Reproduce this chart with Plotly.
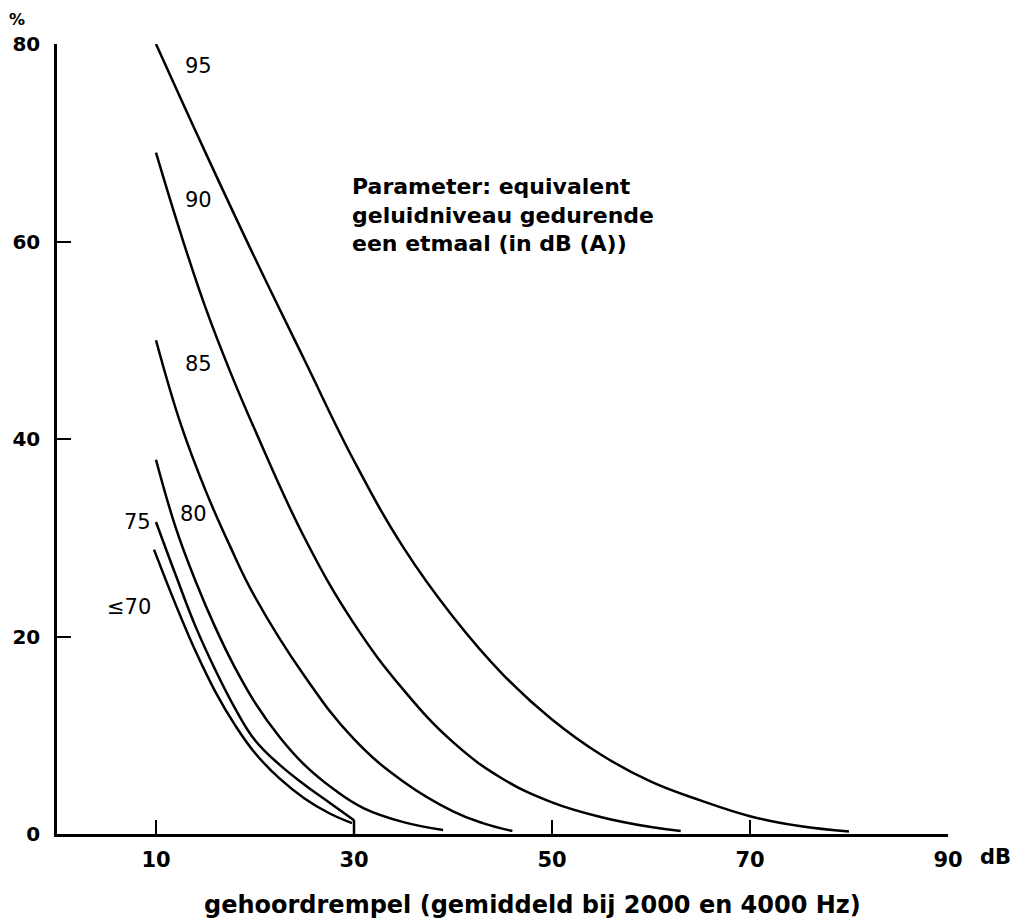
import plotly.graph_objects as go

# hearing threshold (dB) vs percentage (%), one curve per equivalent noise level
x_95 = [10, 15, 20, 25, 30, 35, 40, 45, 50, 55, 60, 65, 70, 75, 80]
y_95 = [80, 69.0, 58.3, 48.0, 37.8, 29.0, 22.0, 16.2, 11.6, 8.0, 5.3, 3.4, 1.8, 0.8, 0.25]

x_90 = [10, 12.5, 15, 17.5, 20, 25, 30, 35, 40, 45, 50, 55, 60, 63]
y_90 = [69, 60.8, 53.3, 46.8, 40.9, 30.0, 21.3, 14.6, 9.3, 5.6, 3.2, 1.7, 0.7, 0.3]

x_85 = [10, 12.5, 15, 17.5, 20, 25, 30, 35, 40, 43, 46]
y_85 = [50, 41.5, 34.8, 29.1, 24.0, 16.0, 9.6, 5.3, 2.3, 1.1, 0.3]

x_80 = [10, 12, 14, 16, 18, 20, 22.5, 25, 28, 31, 35, 39]
y_80 = [37.9, 31.0, 25.6, 20.9, 16.8, 13.3, 9.8, 7.0, 4.5, 2.6, 1.2, 0.4]

x_75 = [10, 12, 14, 16, 18, 20, 22.5, 25, 27.5, 30]
y_75 = [31.6, 26.2, 21.0, 16.6, 12.7, 9.5, 7.0, 5.0, 3.2, 1.4]

x_70 = [9.8, 12, 14, 16, 18, 20, 22.5, 25, 27.5, 29.8]
y_70 = [28.8, 23.2, 18.5, 14.4, 11.0, 8.2, 5.6, 3.6, 2.1, 1.1]

# short vertical drop of the 75 curve to the axis
x_drop = [30.0, 30.0]
y_drop = [1.4, 0.0]

x_ticks = [10, 30, 50, 70, 90]
y_ticks = [0, 20, 40, 60, 80]

curves = [(x_95, y_95), (x_90, y_90), (x_85, y_85), (x_80, y_80),
          (x_75, y_75), (x_70, y_70)]

fig = go.Figure()
for xs, ys in curves:
    fig.add_trace(go.Scatter(x=xs, y=ys, mode="lines",
                             line=dict(color="black", width=2.5,
                                       shape="spline", smoothing=1.2),
                             showlegend=False, hoverinfo="skip"))
fig.add_trace(go.Scatter(x=x_drop, y=y_drop, mode="lines",
                         line=dict(color="black", width=2.5),
                         showlegend=False, hoverinfo="skip"))

lab_font = dict(family="DejaVu Sans", size=21, color="black")
labels = [("95", 14.3, 77.8), ("90", 14.3, 64.2), ("85", 14.3, 47.6),
          ("80", 13.8, 32.4), ("75", 8.1, 31.6), ("≤70", 7.3, 23.0)]
for t, lx, ly in labels:
    fig.add_annotation(x=lx, y=ly, text=t, showarrow=False,
                       font=lab_font, xanchor="center", yanchor="middle")

fig.add_annotation(x=30.0, y=67.0, xshift=-4,
                   text="Parameter: equivalent<br>geluidniveau gedurende<br>een etmaal (in dB (A))",
                   showarrow=False, xanchor="left", yanchor="top", align="left",
                   font=dict(family="DejaVu Sans", size=22, color="black", weight="bold"))

fig.add_annotation(x=90, y=0, text="dB", showarrow=False, xanchor="left",
                   yanchor="middle", xshift=30, yshift=-23,
                   font=dict(family="DejaVu Sans", size=21, color="black", weight="bold"))

fig.add_annotation(xref="paper", yref="paper", x=-0.045, y=1.0, text="%",
                   showarrow=False, xanchor="center", yanchor="bottom", yshift=13,
                   font=dict(family="DejaVu Sans", size=16, color="black", weight="bold"))

fig.add_annotation(xref="paper", yref="paper", x=0.5336, y=0.0, yshift=-71,
                   text="gehoordrempel (gemiddeld bij 2000 en 4000 Hz)",
                   showarrow=False, xanchor="center", yanchor="middle",
                   font=dict(family="DejaVu Sans", size=24, color="black", weight="bold"))

fig.update_layout(
    width=1023, height=922, autosize=False,
    margin=dict(l=54, r=75, t=44, b=88),
    paper_bgcolor="white", plot_bgcolor="white",
    xaxis=dict(range=[0, 90], tickvals=x_ticks, ticktext=[str(v) for v in x_ticks],
               ticks="inside", ticklen=14, tickwidth=2, tickcolor="black",
               showline=True, linecolor="black", linewidth=2.5,
               showgrid=False, zeroline=False, ticklabelstandoff=5,
               tickfont=dict(family="DejaVu Sans", size=21, color="black", weight="bold")),
    yaxis=dict(range=[0, 80], tickvals=y_ticks, ticktext=[str(v) for v in y_ticks],
               ticks="inside", ticklen=14, tickwidth=2, tickcolor="black",
               showline=True, linecolor="black", linewidth=2.5,
               showgrid=False, zeroline=False, ticklabelstandoff=10,
               tickfont=dict(family="DejaVu Sans", size=20, color="black", weight="bold")),
)

fig.write_html("out.html")
